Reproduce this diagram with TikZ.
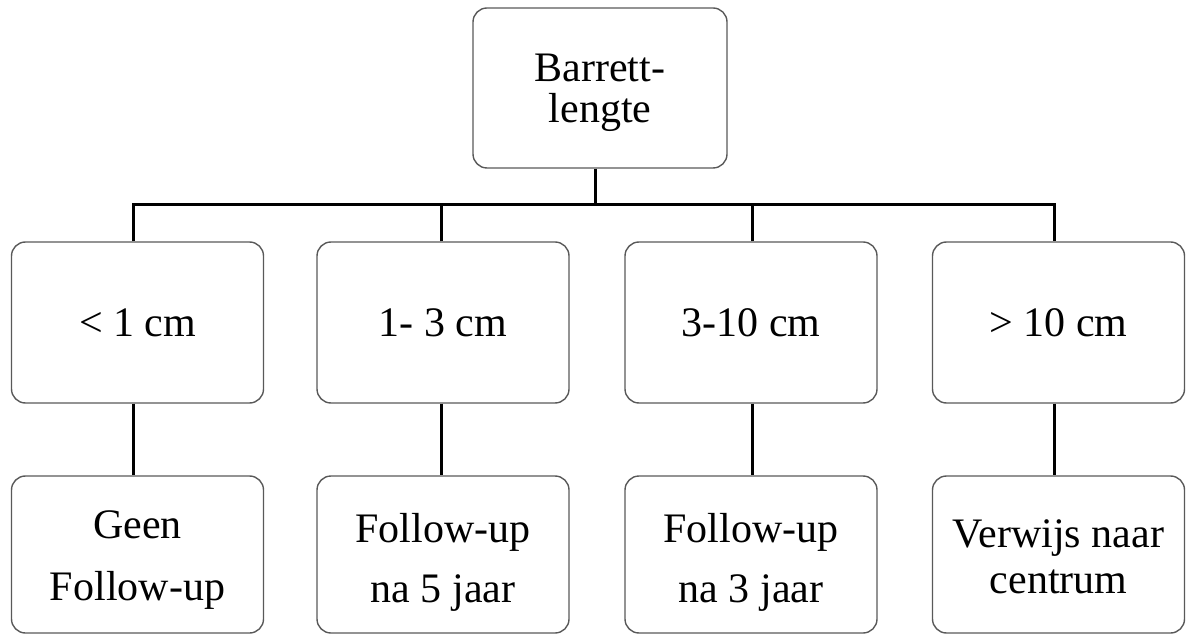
\documentclass[tikz,border=0pt]{standalone}
\usepackage{fontspec}
\setmainfont{Liberation Serif}
\newcommand\twol[3]{\vtop{\baselineskip=#1\lineskiplimit=-50pt\lineskip=0pt\tabskip=0pt\halign{\hfil##\hfil\cr#2\cr#3\cr}}}
\tikzset{
  box/.style={draw=black!65, line width=0.7pt, rounded corners=7pt, inner sep=0pt},
  txt/.style={inner sep=0pt, anchor=base, font=\fontsize{21}{25}\selectfont},
  conn/.style={draw=black, line width=1.5pt}
}
\begin{document}
\begin{tikzpicture}[x=0.5pt, y=-0.5pt]
\useasboundingbox (0,0) rectangle (1186,635);
% boxes
\node[box, minimum width=127pt, minimum height=80pt] (top) at (600,88) {};
\node[box, minimum width=126pt, minimum height=80.5pt] (b1) at (137.5,322.5) {};
\node[box, minimum width=126pt, minimum height=80.5pt] (b2) at (443,322.5) {};
\node[box, minimum width=126pt, minimum height=80.5pt] (b3) at (751,322.5) {};
\node[box, minimum width=126pt, minimum height=80.5pt] (b4) at (1058.5,322.5) {};
\node[box, minimum width=126pt, minimum height=78.5pt] (c1) at (137.5,554.5) {};
\node[box, minimum width=126pt, minimum height=78.5pt] (c2) at (443,554.5) {};
\node[box, minimum width=126pt, minimum height=78.5pt] (c3) at (751,554.5) {};
\node[box, minimum width=126pt, minimum height=78.5pt] (c4) at (1058.5,554.5) {};
% texts
\node[txt] (t0) at (600,82) {\twol{20.5pt}{Barrett-}{lengte}};
\node[txt] (tb1) at (137.5,337) {< 1 cm};
\node[txt] (tb2) at (443,337) {1- 3 cm};
\node[txt] (tb3) at (751,337) {3-10 cm};
\node[txt] (tb4) at (1058.5,337) {> 10 cm};
\node[txt] (tc1) at (137.5,538) {\twol{31pt}{Geen}{Follow-up}};
\node[txt] (tc2) at (443,542) {\twol{30pt}{Follow-up}{na 5 jaar}};
\node[txt] (tc3) at (751,542) {\twol{30pt}{Follow-up}{na 3 jaar}};
\node[txt] (tc4) at (1058.5,547) {\twol{23pt}{Verwijs naar}{centrum}};
% connectors
\draw[conn] ([xshift=-2.5pt]top.south) -- ++(0,37);
\draw[conn] ([xshift=-2.25pt]b1.north) -- ++(0,-37) -| ([xshift=-2.25pt]b4.north);
\draw[conn] ([xshift=-1pt]b2.north) -- ++(0,-37);
\draw[conn] ([xshift=0.5pt]b3.north) -- ++(0,-37);
\draw[conn] ([xshift=-2.25pt]b1.south) -- ([xshift=-2.25pt]c1.north);
\draw[conn] ([xshift=-1pt]b2.south) -- ([xshift=-1pt]c2.north);
\draw[conn] ([xshift=0.5pt]b3.south) -- ([xshift=0.5pt]c3.north);
\draw[conn] ([xshift=-2.25pt]b4.south) -- ([xshift=-2.25pt]c4.north);
\end{tikzpicture}
\end{document}
